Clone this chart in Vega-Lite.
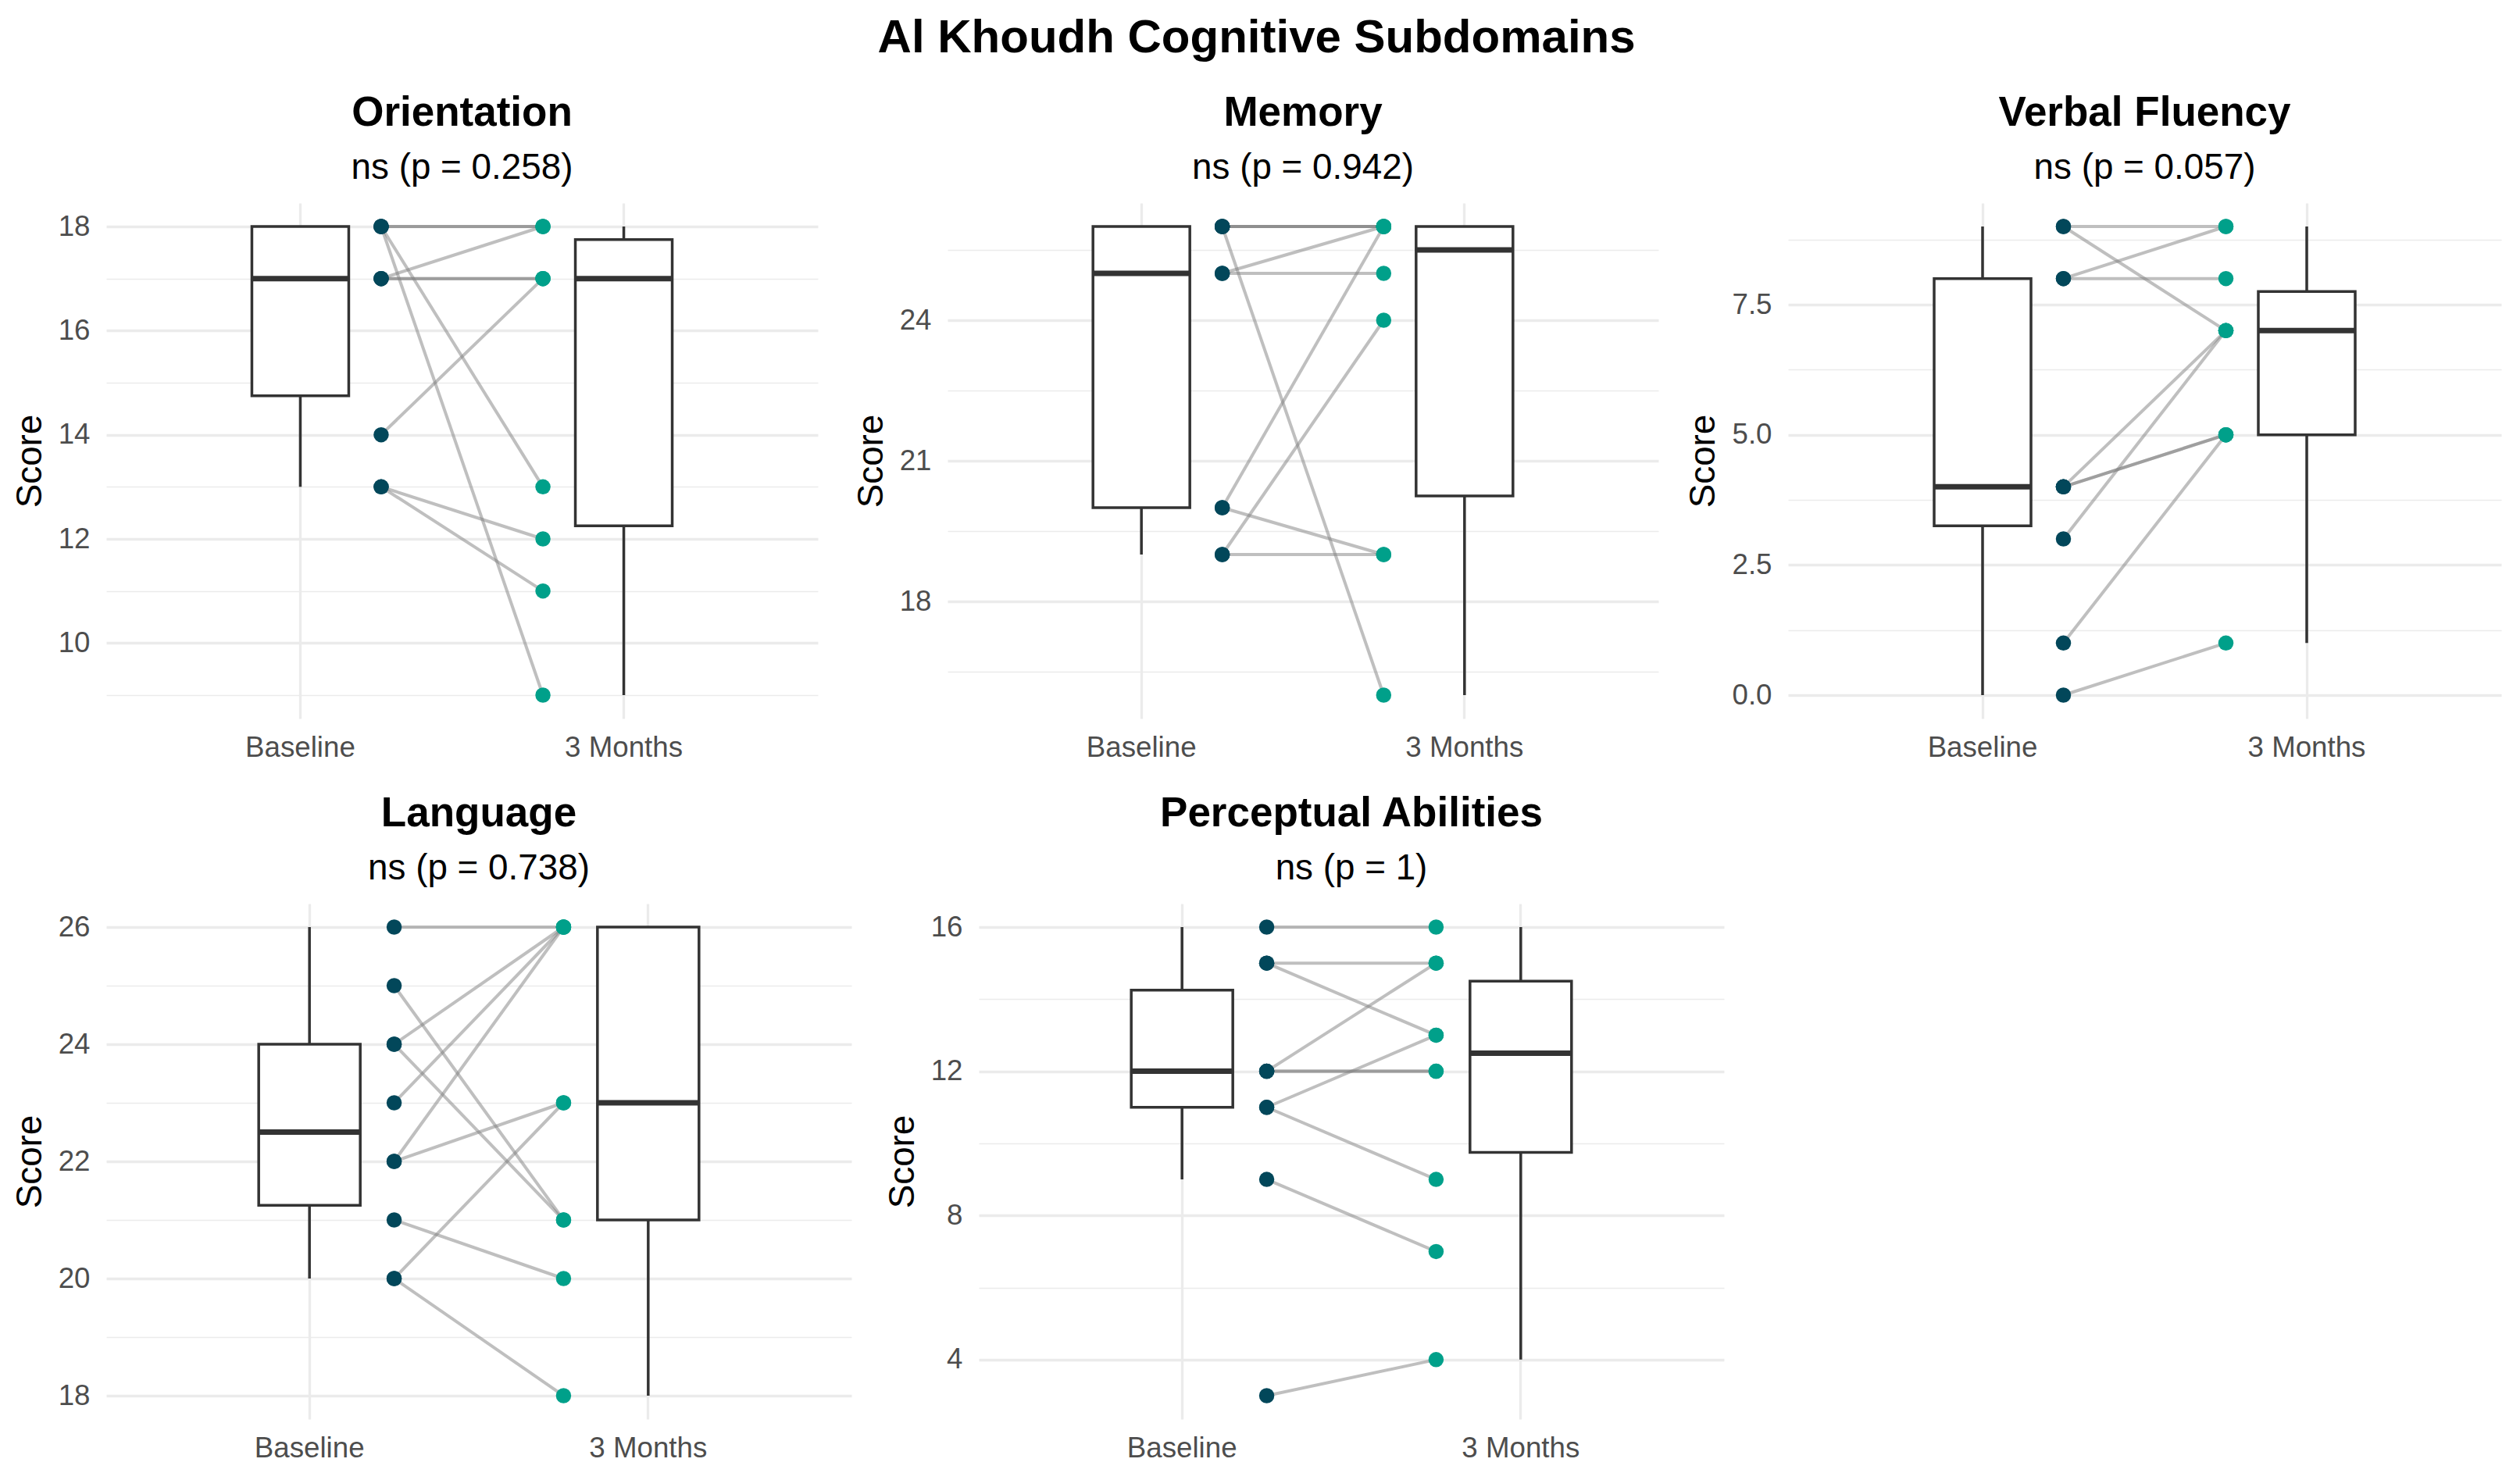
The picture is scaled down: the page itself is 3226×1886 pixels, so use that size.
{
  "$schema": "https://vega.github.io/schema/vega-lite/v6.json",
  "title": {"text": "Al Khoudh Cognitive Subdomains", "fontSize": 60, "fontWeight": "bold", "offset": 39, "frame": "bounds", "anchor": "middle"},
  "padding": {"left": 15, "top": 19, "right": 5, "bottom": 5},
  "background": "white",
  "datasets": {
    "scores": [
      {"domain": "Orientation", "id": 1, "time": "Baseline", "score": 18}, {"domain": "Orientation", "id": 1, "time": "3 Months", "score": 18},
      {"domain": "Orientation", "id": 2, "time": "Baseline", "score": 18}, {"domain": "Orientation", "id": 2, "time": "3 Months", "score": 18},
      {"domain": "Orientation", "id": 3, "time": "Baseline", "score": 18}, {"domain": "Orientation", "id": 3, "time": "3 Months", "score": 13},
      {"domain": "Orientation", "id": 4, "time": "Baseline", "score": 18}, {"domain": "Orientation", "id": 4, "time": "3 Months", "score": 9},
      {"domain": "Orientation", "id": 5, "time": "Baseline", "score": 17}, {"domain": "Orientation", "id": 5, "time": "3 Months", "score": 18},
      {"domain": "Orientation", "id": 6, "time": "Baseline", "score": 17}, {"domain": "Orientation", "id": 6, "time": "3 Months", "score": 17},
      {"domain": "Orientation", "id": 7, "time": "Baseline", "score": 17}, {"domain": "Orientation", "id": 7, "time": "3 Months", "score": 17},
      {"domain": "Orientation", "id": 8, "time": "Baseline", "score": 14}, {"domain": "Orientation", "id": 8, "time": "3 Months", "score": 17},
      {"domain": "Orientation", "id": 9, "time": "Baseline", "score": 13}, {"domain": "Orientation", "id": 9, "time": "3 Months", "score": 12},
      {"domain": "Orientation", "id": 10, "time": "Baseline", "score": 13}, {"domain": "Orientation", "id": 10, "time": "3 Months", "score": 11},
      {"domain": "Memory", "id": 1, "time": "Baseline", "score": 26}, {"domain": "Memory", "id": 1, "time": "3 Months", "score": 26},
      {"domain": "Memory", "id": 2, "time": "Baseline", "score": 26}, {"domain": "Memory", "id": 2, "time": "3 Months", "score": 26},
      {"domain": "Memory", "id": 3, "time": "Baseline", "score": 26}, {"domain": "Memory", "id": 3, "time": "3 Months", "score": 26},
      {"domain": "Memory", "id": 4, "time": "Baseline", "score": 26}, {"domain": "Memory", "id": 4, "time": "3 Months", "score": 16},
      {"domain": "Memory", "id": 5, "time": "Baseline", "score": 25}, {"domain": "Memory", "id": 5, "time": "3 Months", "score": 26},
      {"domain": "Memory", "id": 6, "time": "Baseline", "score": 25}, {"domain": "Memory", "id": 6, "time": "3 Months", "score": 25},
      {"domain": "Memory", "id": 7, "time": "Baseline", "score": 20}, {"domain": "Memory", "id": 7, "time": "3 Months", "score": 26},
      {"domain": "Memory", "id": 8, "time": "Baseline", "score": 20}, {"domain": "Memory", "id": 8, "time": "3 Months", "score": 19},
      {"domain": "Memory", "id": 9, "time": "Baseline", "score": 19}, {"domain": "Memory", "id": 9, "time": "3 Months", "score": 24},
      {"domain": "Memory", "id": 10, "time": "Baseline", "score": 19}, {"domain": "Memory", "id": 10, "time": "3 Months", "score": 19},
      {"domain": "Verbal Fluency", "id": 1, "time": "Baseline", "score": 9}, {"domain": "Verbal Fluency", "id": 1, "time": "3 Months", "score": 9},
      {"domain": "Verbal Fluency", "id": 2, "time": "Baseline", "score": 9}, {"domain": "Verbal Fluency", "id": 2, "time": "3 Months", "score": 7},
      {"domain": "Verbal Fluency", "id": 3, "time": "Baseline", "score": 8}, {"domain": "Verbal Fluency", "id": 3, "time": "3 Months", "score": 9},
      {"domain": "Verbal Fluency", "id": 4, "time": "Baseline", "score": 8}, {"domain": "Verbal Fluency", "id": 4, "time": "3 Months", "score": 8},
      {"domain": "Verbal Fluency", "id": 5, "time": "Baseline", "score": 4}, {"domain": "Verbal Fluency", "id": 5, "time": "3 Months", "score": 7},
      {"domain": "Verbal Fluency", "id": 6, "time": "Baseline", "score": 4}, {"domain": "Verbal Fluency", "id": 6, "time": "3 Months", "score": 5},
      {"domain": "Verbal Fluency", "id": 7, "time": "Baseline", "score": 4}, {"domain": "Verbal Fluency", "id": 7, "time": "3 Months", "score": 5},
      {"domain": "Verbal Fluency", "id": 8, "time": "Baseline", "score": 3}, {"domain": "Verbal Fluency", "id": 8, "time": "3 Months", "score": 7},
      {"domain": "Verbal Fluency", "id": 9, "time": "Baseline", "score": 1}, {"domain": "Verbal Fluency", "id": 9, "time": "3 Months", "score": 5},
      {"domain": "Verbal Fluency", "id": 10, "time": "Baseline", "score": 0}, {"domain": "Verbal Fluency", "id": 10, "time": "3 Months", "score": 1},
      {"domain": "Language", "id": 1, "time": "Baseline", "score": 26}, {"domain": "Language", "id": 1, "time": "3 Months", "score": 26},
      {"domain": "Language", "id": 2, "time": "Baseline", "score": 25}, {"domain": "Language", "id": 2, "time": "3 Months", "score": 21},
      {"domain": "Language", "id": 3, "time": "Baseline", "score": 24}, {"domain": "Language", "id": 3, "time": "3 Months", "score": 26},
      {"domain": "Language", "id": 4, "time": "Baseline", "score": 24}, {"domain": "Language", "id": 4, "time": "3 Months", "score": 21},
      {"domain": "Language", "id": 5, "time": "Baseline", "score": 23}, {"domain": "Language", "id": 5, "time": "3 Months", "score": 26},
      {"domain": "Language", "id": 6, "time": "Baseline", "score": 22}, {"domain": "Language", "id": 6, "time": "3 Months", "score": 26},
      {"domain": "Language", "id": 7, "time": "Baseline", "score": 22}, {"domain": "Language", "id": 7, "time": "3 Months", "score": 23},
      {"domain": "Language", "id": 8, "time": "Baseline", "score": 21}, {"domain": "Language", "id": 8, "time": "3 Months", "score": 20},
      {"domain": "Language", "id": 9, "time": "Baseline", "score": 20}, {"domain": "Language", "id": 9, "time": "3 Months", "score": 23},
      {"domain": "Language", "id": 10, "time": "Baseline", "score": 20}, {"domain": "Language", "id": 10, "time": "3 Months", "score": 18},
      {"domain": "Perceptual Abilities", "id": 1, "time": "Baseline", "score": 16}, {"domain": "Perceptual Abilities", "id": 1, "time": "3 Months", "score": 16},
      {"domain": "Perceptual Abilities", "id": 2, "time": "Baseline", "score": 15}, {"domain": "Perceptual Abilities", "id": 2, "time": "3 Months", "score": 15},
      {"domain": "Perceptual Abilities", "id": 3, "time": "Baseline", "score": 15}, {"domain": "Perceptual Abilities", "id": 3, "time": "3 Months", "score": 13},
      {"domain": "Perceptual Abilities", "id": 4, "time": "Baseline", "score": 12}, {"domain": "Perceptual Abilities", "id": 4, "time": "3 Months", "score": 15},
      {"domain": "Perceptual Abilities", "id": 5, "time": "Baseline", "score": 12}, {"domain": "Perceptual Abilities", "id": 5, "time": "3 Months", "score": 12},
      {"domain": "Perceptual Abilities", "id": 6, "time": "Baseline", "score": 12}, {"domain": "Perceptual Abilities", "id": 6, "time": "3 Months", "score": 12},
      {"domain": "Perceptual Abilities", "id": 7, "time": "Baseline", "score": 11}, {"domain": "Perceptual Abilities", "id": 7, "time": "3 Months", "score": 13},
      {"domain": "Perceptual Abilities", "id": 8, "time": "Baseline", "score": 11}, {"domain": "Perceptual Abilities", "id": 8, "time": "3 Months", "score": 9},
      {"domain": "Perceptual Abilities", "id": 9, "time": "Baseline", "score": 9}, {"domain": "Perceptual Abilities", "id": 9, "time": "3 Months", "score": 7},
      {"domain": "Perceptual Abilities", "id": 10, "time": "Baseline", "score": 3}, {"domain": "Perceptual Abilities", "id": 10, "time": "3 Months", "score": 4}
    ]
  },
  "spacing": 40,
  "vconcat": [
    {
      "bounds": "flush",
      "spacing": 166,
      "hconcat": [
        {
          "width": 911, "height": 660,
          "title": {"text": "Orientation", "subtitle": "ns (p = 0.258)"},
          "data": {"name": "scores"},
          "transform": [{"filter": "datum.domain === 'Orientation'"}],
          "resolve": {"axis": {"y": "independent"}},
          "layer": [
            {"mark": {"type": "boxplot", "extent": 1.5, "size": 124, "outliers": false, "box": {"fill": "white", "stroke": "#333333", "strokeWidth": 3.5}, "median": {"color": "#333333", "thickness": 7, "opacity": 1}, "rule": {"color": "#333333", "strokeWidth": 3.5}},
             "encoding": {
               "x": {"field": "time", "type": "nominal", "scale": {"domain": ["Baseline", "3 Months"], "paddingInner": 0, "paddingOuter": 0.1}, "axis": {"title": null, "labelAngle": 0, "grid": true, "bandPosition": 0.5}},
               "y": {"field": "score", "type": "quantitative", "scale": {"domain": [8.55, 18.45], "nice": false, "zero": false}, "axis": {"title": "Score", "values": [10, 12, 14, 16, 18]}}}},
            {"mark": {"type": "line", "color": "#7f7f7f", "opacity": 0.5, "strokeWidth": 4, "xOffset": {"expr": "datum.time === 'Baseline' ? 103.5 : -103.5"}},
             "encoding": {
               "x": {"field": "time", "type": "nominal"},
               "y": {"field": "score", "type": "quantitative", "axis": {"orient": "right", "values": [9, 11, 13, 15, 17], "grid": true, "gridWidth": 1.7, "labels": false, "ticks": false, "domain": false, "title": null, "minExtent": 0, "maxExtent": 0}},
               "detail": {"field": "id"}}},
            {"mark": {"type": "point", "filled": true, "size": 380, "opacity": 1, "xOffset": {"expr": "datum.time === 'Baseline' ? 103.5 : -103.5"}},
             "encoding": {
               "x": {"field": "time", "type": "nominal"},
               "y": {"field": "score", "type": "quantitative", "axis": null},
               "color": {"field": "time", "type": "nominal", "scale": {"domain": ["Baseline", "3 Months"], "range": ["#02475a", "#00a08a"]}, "legend": null}}}
          ]
        },
        {
          "width": 910, "height": 660,
          "title": {"text": "Memory", "subtitle": "ns (p = 0.942)"},
          "data": {"name": "scores"},
          "transform": [{"filter": "datum.domain === 'Memory'"}],
          "resolve": {"axis": {"y": "independent"}},
          "layer": [
            {"mark": {"type": "boxplot", "extent": 1.5, "size": 124, "outliers": false, "box": {"fill": "white", "stroke": "#333333", "strokeWidth": 3.5}, "median": {"color": "#333333", "thickness": 7, "opacity": 1}, "rule": {"color": "#333333", "strokeWidth": 3.5}},
             "encoding": {
               "x": {"field": "time", "type": "nominal", "scale": {"domain": ["Baseline", "3 Months"], "paddingInner": 0, "paddingOuter": 0.1}, "axis": {"title": null, "labelAngle": 0, "grid": true, "bandPosition": 0.5}},
               "y": {"field": "score", "type": "quantitative", "scale": {"domain": [15.5, 26.5], "nice": false, "zero": false}, "axis": {"title": "Score", "values": [18, 21, 24]}}}},
            {"mark": {"type": "line", "color": "#7f7f7f", "opacity": 0.5, "strokeWidth": 4, "xOffset": {"expr": "datum.time === 'Baseline' ? 103.5 : -103.5"}},
             "encoding": {
               "x": {"field": "time", "type": "nominal"},
               "y": {"field": "score", "type": "quantitative", "axis": {"orient": "right", "values": [16.5, 19.5, 22.5, 25.5], "grid": true, "gridWidth": 1.7, "labels": false, "ticks": false, "domain": false, "title": null, "minExtent": 0, "maxExtent": 0}},
               "detail": {"field": "id"}}},
            {"mark": {"type": "point", "filled": true, "size": 380, "opacity": 1, "xOffset": {"expr": "datum.time === 'Baseline' ? 103.5 : -103.5"}},
             "encoding": {
               "x": {"field": "time", "type": "nominal"},
               "y": {"field": "score", "type": "quantitative", "axis": null},
               "color": {"field": "time", "type": "nominal", "scale": {"domain": ["Baseline", "3 Months"], "range": ["#02475a", "#00a08a"]}, "legend": null}}}
          ]
        },
        {
          "width": 913, "height": 660,
          "title": {"text": "Verbal Fluency", "subtitle": "ns (p = 0.057)"},
          "data": {"name": "scores"},
          "transform": [{"filter": "datum.domain === 'Verbal Fluency'"}],
          "resolve": {"axis": {"y": "independent"}},
          "layer": [
            {"mark": {"type": "boxplot", "extent": 1.5, "size": 124, "outliers": false, "box": {"fill": "white", "stroke": "#333333", "strokeWidth": 3.5}, "median": {"color": "#333333", "thickness": 7, "opacity": 1}, "rule": {"color": "#333333", "strokeWidth": 3.5}},
             "encoding": {
               "x": {"field": "time", "type": "nominal", "scale": {"domain": ["Baseline", "3 Months"], "paddingInner": 0, "paddingOuter": 0.1}, "axis": {"title": null, "labelAngle": 0, "grid": true, "bandPosition": 0.5}},
               "y": {"field": "score", "type": "quantitative", "scale": {"domain": [-0.45, 9.45], "nice": false, "zero": false}, "axis": {"title": "Score", "values": [0, 2.5, 5, 7.5], "format": ".1f"}}}},
            {"mark": {"type": "line", "color": "#7f7f7f", "opacity": 0.5, "strokeWidth": 4, "xOffset": {"expr": "datum.time === 'Baseline' ? 103.5 : -103.5"}},
             "encoding": {
               "x": {"field": "time", "type": "nominal"},
               "y": {"field": "score", "type": "quantitative", "axis": {"orient": "right", "values": [1.25, 3.75, 6.25, 8.75], "grid": true, "gridWidth": 1.7, "labels": false, "ticks": false, "domain": false, "title": null, "minExtent": 0, "maxExtent": 0}},
               "detail": {"field": "id"}}},
            {"mark": {"type": "point", "filled": true, "size": 380, "opacity": 1, "xOffset": {"expr": "datum.time === 'Baseline' ? 103.5 : -103.5"}},
             "encoding": {
               "x": {"field": "time", "type": "nominal"},
               "y": {"field": "score", "type": "quantitative", "axis": null},
               "color": {"field": "time", "type": "nominal", "scale": {"domain": ["Baseline", "3 Months"], "range": ["#02475a", "#00a08a"]}, "legend": null}}}
          ]
        }
      ]
    },
    {
      "bounds": "flush",
      "spacing": 163,
      "hconcat": [
        {
          "width": 954, "height": 660,
          "title": {"text": "Language", "subtitle": "ns (p = 0.738)"},
          "data": {"name": "scores"},
          "transform": [{"filter": "datum.domain === 'Language'"}],
          "resolve": {"axis": {"y": "independent"}},
          "layer": [
            {"mark": {"type": "boxplot", "extent": 1.5, "size": 130, "outliers": false, "box": {"fill": "white", "stroke": "#333333", "strokeWidth": 3.5}, "median": {"color": "#333333", "thickness": 7, "opacity": 1}, "rule": {"color": "#333333", "strokeWidth": 3.5}},
             "encoding": {
               "x": {"field": "time", "type": "nominal", "scale": {"domain": ["Baseline", "3 Months"], "paddingInner": 0, "paddingOuter": 0.1}, "axis": {"title": null, "labelAngle": 0, "grid": true, "bandPosition": 0.5}},
               "y": {"field": "score", "type": "quantitative", "scale": {"domain": [17.6, 26.4], "nice": false, "zero": false}, "axis": {"title": "Score", "values": [18, 20, 22, 24, 26]}}}},
            {"mark": {"type": "line", "color": "#7f7f7f", "opacity": 0.5, "strokeWidth": 4, "xOffset": {"expr": "datum.time === 'Baseline' ? 108.4 : -108.4"}},
             "encoding": {
               "x": {"field": "time", "type": "nominal"},
               "y": {"field": "score", "type": "quantitative", "axis": {"orient": "right", "values": [19, 21, 23, 25], "grid": true, "gridWidth": 1.7, "labels": false, "ticks": false, "domain": false, "title": null, "minExtent": 0, "maxExtent": 0}},
               "detail": {"field": "id"}}},
            {"mark": {"type": "point", "filled": true, "size": 380, "opacity": 1, "xOffset": {"expr": "datum.time === 'Baseline' ? 108.4 : -108.4"}},
             "encoding": {
               "x": {"field": "time", "type": "nominal"},
               "y": {"field": "score", "type": "quantitative", "axis": null},
               "color": {"field": "time", "type": "nominal", "scale": {"domain": ["Baseline", "3 Months"], "range": ["#02475a", "#00a08a"]}, "legend": null}}}
          ]
        },
        {
          "width": 954, "height": 660,
          "title": {"text": "Perceptual Abilities", "subtitle": "ns (p = 1)"},
          "data": {"name": "scores"},
          "transform": [{"filter": "datum.domain === 'Perceptual Abilities'"}],
          "resolve": {"axis": {"y": "independent"}},
          "layer": [
            {"mark": {"type": "boxplot", "extent": 1.5, "size": 130, "outliers": false, "box": {"fill": "white", "stroke": "#333333", "strokeWidth": 3.5}, "median": {"color": "#333333", "thickness": 7, "opacity": 1}, "rule": {"color": "#333333", "strokeWidth": 3.5}},
             "encoding": {
               "x": {"field": "time", "type": "nominal", "scale": {"domain": ["Baseline", "3 Months"], "paddingInner": 0, "paddingOuter": 0.1}, "axis": {"title": null, "labelAngle": 0, "grid": true, "bandPosition": 0.5}},
               "y": {"field": "score", "type": "quantitative", "scale": {"domain": [2.35, 16.65], "nice": false, "zero": false}, "axis": {"title": "Score", "values": [4, 8, 12, 16]}}}},
            {"mark": {"type": "line", "color": "#7f7f7f", "opacity": 0.5, "strokeWidth": 4, "xOffset": {"expr": "datum.time === 'Baseline' ? 108.4 : -108.4"}},
             "encoding": {
               "x": {"field": "time", "type": "nominal"},
               "y": {"field": "score", "type": "quantitative", "axis": {"orient": "right", "values": [6, 10, 14], "grid": true, "gridWidth": 1.7, "labels": false, "ticks": false, "domain": false, "title": null, "minExtent": 0, "maxExtent": 0}},
               "detail": {"field": "id"}}},
            {"mark": {"type": "point", "filled": true, "size": 380, "opacity": 1, "xOffset": {"expr": "datum.time === 'Baseline' ? 108.4 : -108.4"}},
             "encoding": {
               "x": {"field": "time", "type": "nominal"},
               "y": {"field": "score", "type": "quantitative", "axis": null},
               "color": {"field": "time", "type": "nominal", "scale": {"domain": ["Baseline", "3 Months"], "range": ["#02475a", "#00a08a"]}, "legend": null}}}
          ]
        }
      ]
    }
  ],
  "config": {
    "view": {"stroke": null},
    "font": "Liberation Sans",
    "axis": {"labelFont": "Liberation Sans", "labelFontSize": 36.7, "labelColor": "#4d4d4d", "labelFlush": false, "labelOverlap": false, "ticks": false, "tickSize": 0, "domain": false, "grid": true, "gridColor": "#ebebeb", "gridWidth": 3.3, "titleFont": "Liberation Sans", "titleFontSize": 45.8, "titleFontWeight": "normal", "titleColor": "#000000"},
    "axisY": {"labelPadding": 21, "titlePadding": 12},
    "axisX": {"labelPadding": 19},
    "title": {"font": "Liberation Sans", "fontSize": 53, "fontWeight": "bold", "color": "#000000", "subtitleFont": "Liberation Sans", "subtitleFontSize": 45.8, "subtitleColor": "#000000", "subtitlePadding": 20.7, "offset": 22.4, "anchor": "middle", "frame": "group"}
  }
}
